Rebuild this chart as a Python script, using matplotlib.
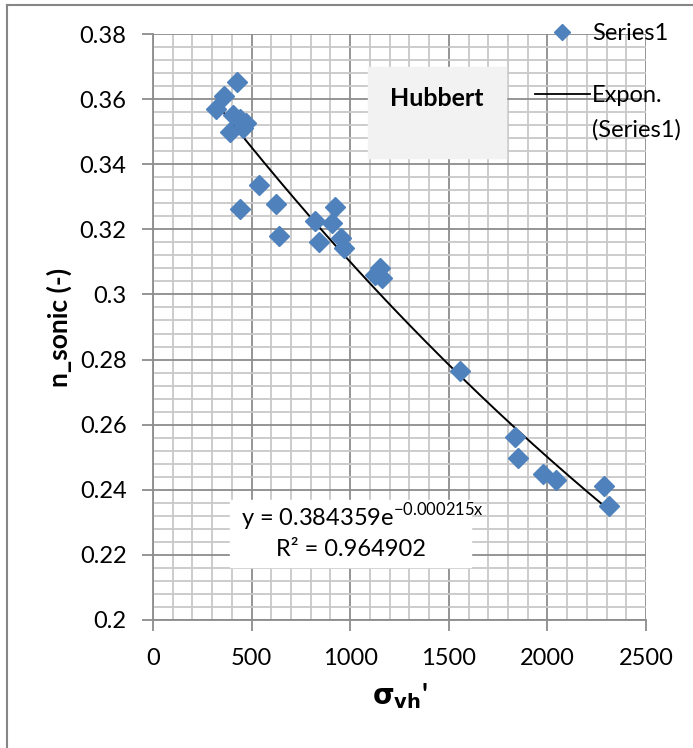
import numpy as np
import matplotlib.pyplot as plt
from matplotlib.lines import Line2D

plt.rcParams['font.family'] = ['Lato', 'DejaVu Sans']
plt.rcParams['mathtext.fontset'] = 'dejavusans'

# data
sigma_vh = [321, 362, 426, 389, 406, 440, 455, 470, 537, 624, 443, 637,
            820, 925, 908, 843, 953, 967, 1149, 1161, 1127,
            1558, 1837, 1851, 1976, 2045, 2285, 2310]
n_sonic = [0.3569, 0.3610, 0.3653, 0.3500, 0.3551, 0.3540, 0.3510, 0.3526,
           0.3336, 0.3277, 0.3262, 0.3180,
           0.3227, 0.3268, 0.3219, 0.3160, 0.3172, 0.3142, 0.3080, 0.3050, 0.3060,
           0.2766, 0.2562, 0.2497, 0.2450, 0.2430, 0.2413, 0.2350]
fit_a = 0.384359
fit_b = -0.000215
r2 = 0.964902

blue = '#4F81BD'
fs = 17

fig = plt.figure(figsize=(6.93, 7.48), dpi=100)
ax = fig.add_axes([153/693, 1-620/748, (646-153)/693, (620-34)/748])

# outer chart frame
fig.add_artist(Line2D([7/693, 7/693], [0, 1-5/748], color='#868686', lw=1.5))
fig.add_artist(Line2D([7/693, 1], [1-5/748, 1-5/748], color='#868686', lw=1.5))

xs = np.linspace(min(sigma_vh), max(sigma_vh), 200)
ax.plot(xs, fit_a*np.exp(fit_b*xs), color='black', lw=1.4, zorder=3)
ax.plot(sigma_vh, n_sonic, 'D', color=blue, ms=10, mec=blue, zorder=4)

ax.set_xlim(0, 2500)
ax.set_ylim(0.2, 0.38)
ax.set_xticks(np.arange(0, 2501, 500))
ax.set_yticks(np.arange(0.2, 0.381, 0.02))
ax.set_xticks(np.arange(0, 2501, 100), minor=True)
ax.set_yticks(np.arange(0.2, 0.381, 0.004), minor=True)
ax.set_xticklabels(['0', '500', '1000', '1500', '2000', '2500'])
ax.set_yticklabels(['0.2', '0.22', '0.24', '0.26', '0.28', '0.3',
                    '0.32', '0.34', '0.36', '0.38'])
ax.grid(which='minor', color='#c8c8c8', lw=1.3)
ax.grid(which='major', color='#8c8c8c', lw=1.3)
ax.set_axisbelow(True)
ax.tick_params(which='major', length=8, width=1.3, color='#8c8c8c',
               labelsize=fs)
ax.tick_params(axis='x', pad=12)
ax.tick_params(axis='y', pad=11)
ax.tick_params(which='minor', length=0)
for s in ['top', 'right']:
    ax.spines[s].set_visible(False)
for s in ['left', 'bottom']:
    ax.spines[s].set_color('#8c8c8c')
    ax.spines[s].set_linewidth(1.3)

ax.set_ylabel('n_sonic (-)', fontsize=19, fontweight='bold', va='center')
ax.yaxis.set_label_coords(-0.19, 0.5)
ax.set_xlabel(r"$\mathbf{\sigma_{vh}}$'", fontsize=fs+3, fontweight='bold',
              labelpad=9)

# title box
fig.text(437/693, 1-99/748, 'Hubbert', fontsize=fs+1, fontweight='bold',
         ha='center', va='center')
fig.add_artist(plt.Rectangle((368/693, 1-158/748), 138/693, 91/748,
                             transform=fig.transFigure, color='#f2f2f2',
                             zorder=1))

# equation box
fig.add_artist(plt.Rectangle((230/693, 1-567/748), 241/693, 67/748,
                             transform=fig.transFigure, color='white',
                             zorder=2))
fig.text(362/693, 1-517/748,
         r'y = %.6fe$^{\mathregular{%.6fx}}$' % (fit_a, fit_b),
         fontsize=fs, ha='center', va='center', zorder=3)
fig.text(351/693, 1-549/748, 'R² = %.6f' % r2,
         fontsize=fs, ha='center', va='center', zorder=3)

# legend
leg1 = fig.legend([Line2D([], [], marker='D', ls='none', color=blue, ms=8)],
                  ['Series1'], loc='upper left',
                  bbox_to_anchor=(514/693, 1-2/748), frameon=False,
                  fontsize=fs, handlelength=2.3, handletextpad=0.1)
leg2 = fig.legend([Line2D([], [], color='black', lw=1.3),
                   Line2D([], [], ls='none')],
                  ['Expon.', '(Series1)'], loc='upper left',
                  bbox_to_anchor=(514/693, 1-64/748), frameon=False,
                  fontsize=fs, handlelength=2.3, handletextpad=0.1,
                  labelspacing=0.55)

fig.savefig('out.png', dpi=100)
